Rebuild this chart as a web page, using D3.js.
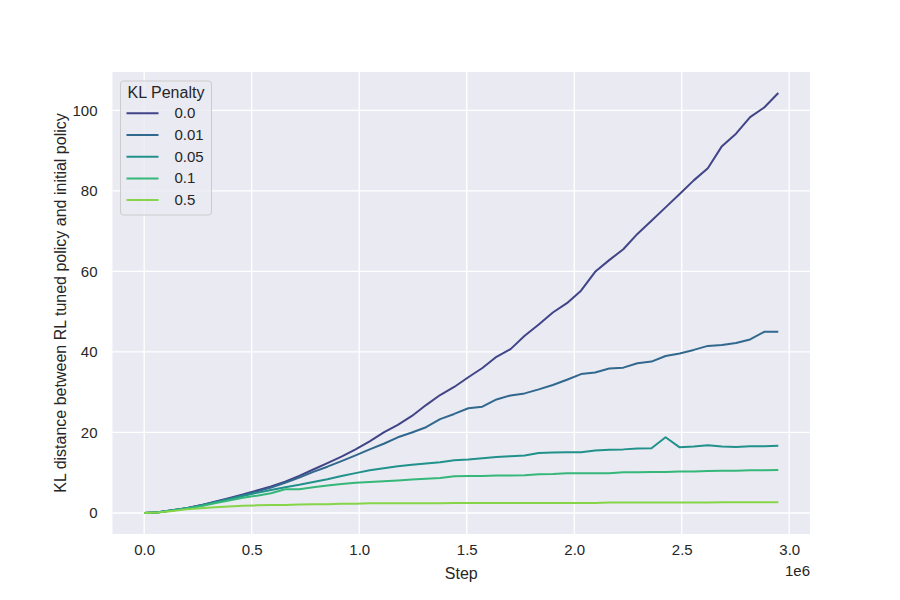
<!DOCTYPE html>
<html>
<head>
<meta charset="utf-8">
<script src="https://cdn.jsdelivr.net/npm/d3@7"></script>
<style>
  body { margin: 0; background: #fff; }
  text { font-family: "Liberation Sans", Arial, sans-serif; fill: #262626; }
</style>
</head>
<body>
<script>
// steps are logged every 65536 env steps, 46 points
var stepSize = 65536;
var penalties = ["0.0", "0.01", "0.05", "0.1", "0.5"];
var colors = ["#414487", "#31688e", "#21918c", "#35b779", "#86d549"];

// KL distance, one array per penalty
var kl00 = [0, 0.2, 0.7, 1.2, 1.9, 2.8, 3.7, 4.6, 5.6, 6.6, 7.8, 9.2, 10.8, 12.4, 14.0, 15.8,
  17.8, 20.0, 21.9, 24.1, 26.8, 29.3, 31.3, 33.7, 36.0, 38.8, 40.7, 44.0, 46.8, 49.8, 52.1,
  55.2, 59.9, 62.8, 65.5, 69.3, 72.6, 75.9, 79.2, 82.6, 85.6, 91.1, 94.2, 98.3, 100.7, 104.3];
var kl001 = [0, 0.2, 0.7, 1.2, 1.9, 2.7, 3.5, 4.4, 5.3, 6.3, 7.5, 8.8, 10.2, 11.5, 12.9, 14.3,
  15.8, 17.2, 18.8, 20.0, 21.3, 23.3, 24.6, 26.0, 26.4, 28.2, 29.2, 29.7, 30.7, 31.8, 33.1,
  34.5, 34.9, 35.9, 36.1, 37.2, 37.6, 39.0, 39.6, 40.5, 41.5, 41.7, 42.2, 43.1, 45.0, 45.0];
var kl005 = [0, 0.2, 0.7, 1.2, 1.8, 2.6, 3.4, 4.2, 5.0, 5.7, 6.4, 7.0, 7.7, 8.4, 9.2, 9.9,
  10.6, 11.1, 11.6, 12.0, 12.3, 12.6, 13.1, 13.3, 13.6, 13.9, 14.1, 14.3, 14.9, 15.0, 15.1,
  15.1, 15.5, 15.7, 15.8, 16.0, 16.1, 18.8, 16.3, 16.5, 16.8, 16.5, 16.4, 16.6, 16.6, 16.7];
var kl01 = [0, 0.2, 0.6, 1.1, 1.7, 2.4, 3.1, 3.8, 4.3, 4.9, 5.9, 5.9, 6.4, 6.8, 7.2, 7.5,
  7.7, 7.9, 8.1, 8.3, 8.5, 8.7, 9.1, 9.2, 9.2, 9.3, 9.3, 9.4, 9.6, 9.7, 9.9,
  9.9, 9.9, 9.9, 10.1, 10.1, 10.2, 10.2, 10.3, 10.3, 10.4, 10.5, 10.5, 10.6, 10.6, 10.7];
var kl05 = [0, 0.1, 0.5, 0.9, 1.2, 1.4, 1.6, 1.8, 1.9, 2.0, 2.0, 2.1, 2.2, 2.2, 2.3, 2.3,
  2.4, 2.4, 2.4, 2.4, 2.4, 2.4, 2.5, 2.5, 2.5, 2.5, 2.5, 2.5, 2.5, 2.5, 2.5,
  2.5, 2.5, 2.6, 2.6, 2.6, 2.6, 2.6, 2.6, 2.6, 2.6, 2.7, 2.7, 2.7, 2.7, 2.7];
var xTicks = [0, 0.5e6, 1e6, 1.5e6, 2e6, 2.5e6, 3e6];
var yTicks = [0, 20, 40, 60, 80, 100];

var allSeries = [kl00, kl001, kl005, kl01, kl05];

// build point lists
var series = allSeries.map(function(vals, i) {
  return {
    name: penalties[i],
    color: colors[i],
    points: vals.map(function(v, k) { return { step: k * stepSize, kl: v }; })
  };
});

var margin = { top: 72, right: 90, bottom: 66, left: 112.5 };
var width = 900 - margin.left - margin.right;
var height = 600 - margin.top - margin.bottom;

var svg = d3.select("body")
  .append("svg")
  .attr("width", 900)
  .attr("height", 600)
  .append("g")
  .attr("transform", "translate(" + margin.left + "," + margin.top + ")");

// matplotlib style 5% padding on both axes
var maxStep = (kl00.length - 1) * stepSize;
var maxKl = d3.max(allSeries, function(s) { return d3.max(s); });
var x = d3.scaleLinear()
  .domain([-0.05 * maxStep, 1.05 * maxStep])
  .range([0, width]);
var y = d3.scaleLinear()
  .domain([-0.05 * maxKl, 1.05 * maxKl])
  .range([height, 0]);

svg.append("rect")
  .attr("width", width)
  .attr("height", height)
  .attr("fill", "#eaeaf2");

// grid
svg.append("g")
  .selectAll("line")
  .data(xTicks)
  .enter().append("line")
  .attr("x1", function(d) { return x(d); })
  .attr("x2", function(d) { return x(d); })
  .attr("y1", 0)
  .attr("y2", height)
  .attr("stroke", "#fff")
  .attr("stroke-width", 1.3);
svg.append("g")
  .selectAll("line")
  .data(yTicks)
  .enter().append("line")
  .attr("x1", 0)
  .attr("x2", width)
  .attr("y1", function(d) { return y(d); })
  .attr("y2", function(d) { return y(d); })
  .attr("stroke", "#fff")
  .attr("stroke-width", 1.3);

// axes, no tick marks and no domain line
var xAxis = svg.append("g")
  .attr("transform", "translate(0," + height + ")")
  .call(d3.axisBottom(x).tickValues(xTicks).tickSize(0).tickPadding(10)
    .tickFormat(function(d) { return (d / 1e6).toFixed(1); }));
var yAxis = svg.append("g")
  .call(d3.axisLeft(y).tickValues(yTicks).tickSize(0).tickPadding(15));
[xAxis, yAxis].forEach(function(a) {
  a.select(".domain").remove();
  a.selectAll("text").style("font-size", "15px").attr("fill", "#262626");
});

svg.append("text")
  .attr("x", width)
  .attr("y", height + 42)
  .attr("text-anchor", "end")
  .style("font-size", "15px")
  .text("1e6");

svg.append("text")
  .attr("x", width / 2)
  .attr("y", height + 45)
  .attr("text-anchor", "middle")
  .style("font-size", "16px")
  .text("Step");

svg.append("text")
  .attr("transform", "rotate(-90)")
  .attr("x", -height / 2)
  .attr("y", -47)
  .attr("text-anchor", "middle")
  .style("font-size", "16px")
  .text("KL distance between RL tuned policy and initial policy");

// lines
var line = d3.line()
  .x(function(d) { return x(d.step); })
  .y(function(d) { return y(d.kl); });

svg.selectAll(".series")
  .data(series)
  .enter().append("path")
  .attr("class", "series")
  .attr("fill", "none")
  .attr("stroke", function(d) { return d.color; })
  .attr("stroke-width", 2)
  .attr("stroke-linejoin", "round")
  .attr("d", function(d) { return line(d.points); });

// legend
var legend = svg.append("g")
  .attr("transform", "translate(8,9)");
legend.append("rect")
  .attr("width", 91)
  .attr("height", 134)
  .attr("rx", 3)
  .attr("fill", "#eaeaf2")
  .attr("fill-opacity", 0.8)
  .attr("stroke", "#cccccc");
legend.append("text")
  .attr("x", 45.5)
  .attr("y", 17)
  .attr("text-anchor", "middle")
  .style("font-size", "16px")
  .text("KL Penalty");
var items = legend.selectAll(".item")
  .data(series)
  .enter().append("g")
  .attr("class", "item")
  .attr("transform", function(d, i) { return "translate(0," + (32.3 + i * 21.7) + ")"; });
items.append("line")
  .attr("x1", 6)
  .attr("x2", 38)
  .attr("stroke", function(d) { return d.color; })
  .attr("stroke-width", 2);
items.append("text")
  .attr("x", 54)
  .attr("y", 5)
  .style("font-size", "15px")
  .text(function(d) { return d.name; });
</script>
</body>
</html>
